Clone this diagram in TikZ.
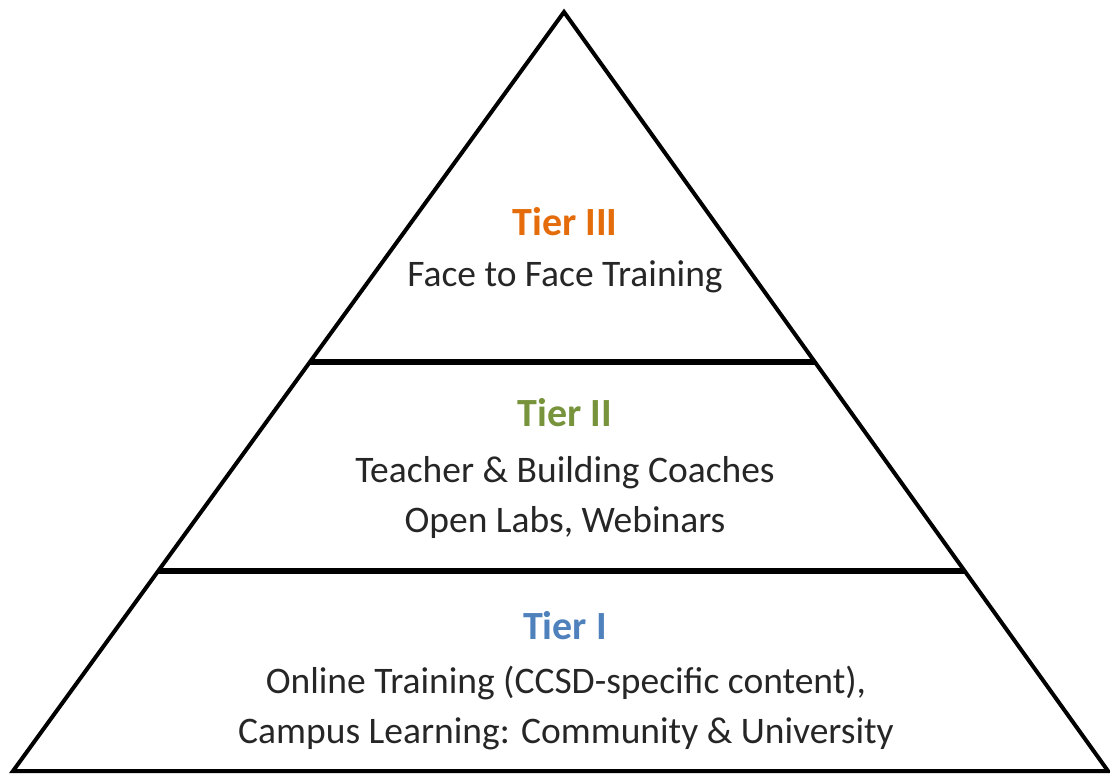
\documentclass[tikz,border=0pt]{standalone}
\usepackage{fontspec}
\setmainfont{Carlito}
\usetikzlibrary{calc}
\definecolor{tierorange}{HTML}{E46C0A}
\definecolor{tiergreen}{HTML}{77933C}
\definecolor{tierblue}{HTML}{4F81BD}
\definecolor{bodytext}{HTML}{262626}
\begin{document}
\begin{tikzpicture}[x=1pt,y=-1pt,
  title/.style={font=\fontsize{40}{46}\selectfont\bfseries, inner sep=0pt},
  body/.style={font=\fontsize{37.5}{50}\selectfont, text=bodytext, align=center, inner sep=0pt},
  edge/.style={line width=4pt, line join=miter},
  divider/.style={line width=6pt}]
  \useasboundingbox (0,0) rectangle (1110,774);
  \coordinate (apex) at (564,12);
  \coordinate (bl) at (13,771);
  \coordinate (br) at (1108,771);
  % outline of the pyramid
  \draw[edge] (apex) -- (bl) -- (br) -- cycle;
  % tier dividers
  \coordinate (d1l) at ($(apex)!0.461!(bl)$);
  \coordinate (d1r) at ($(apex)!0.461!(br)$);
  \coordinate (d2l) at ($(apex)!0.7365!(bl)$);
  \coordinate (d2r) at ($(apex)!0.7365!(br)$);
  \draw[divider] (d1l) -- (d1r);
  \draw[divider] (d2l) -- (d2r);
  % tier labels
  \node[title, text=tierorange] (t3) at (565,222) {Tier III};
  \node[body] (t3b) at (565,277) {Face to Face Training};
  \node[title, text=tiergreen] (t2) at (565,413) {Tier II};
  \node[body] (t2b) at (565,497) {Teacher \& Building Coaches\\Open Labs, Webinars};
  \node[title, text=tierblue] (t1) at (565,626) {Tier I};
  \node[body] (t1b) at (566,708) {Online Training (CCSD-specific content),\\Campus Learning: Community \& University};
\end{tikzpicture}
\end{document}
